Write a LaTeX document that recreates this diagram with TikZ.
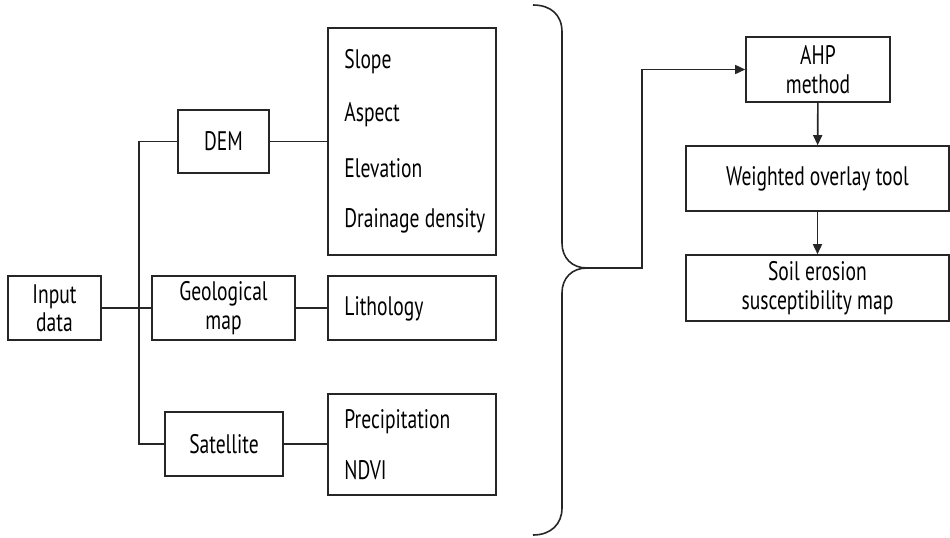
\documentclass[tikz,border=0pt]{standalone}
\usepackage{fontspec}
\setmainfont[FakeStretch=0.73]{PT Sans}
\usepackage{tikz}
\usetikzlibrary{arrows.meta,positioning}
\tikzset{
    box/.style={
           rectangle,
           draw=black!85, line width=0.8pt,
           inner sep=2pt,
           align=center,
           },
    item/.style={
           anchor=west,
           inner sep=0pt,
           },
    link/.style={
           draw=black!85, line width=0.8pt,
           },
    flow/.style={
           link, -{Triangle[length=5pt,width=4.5pt]},
           },
}

\begin{document}
\begin{tikzpicture}[x=0.5pt,y=-0.5pt,font=\fontsize{13.4}{14.2}\selectfont]
    \useasboundingbox (0,0) rectangle (950,537);

    % Input and the three sources
    \node[box, minimum width=46.5pt, minimum height=32pt] (input) at (54.5,308) {Input\\data};
    \node[box, minimum width=45.5pt, minimum height=31.5pt] (dem) at (223.5,141.5) {DEM};
    \node[box, minimum width=71.5pt, minimum height=32pt] (geo) at (223.5,308) {Geological\\map};
    \node[box, minimum width=59pt, minimum height=32pt] (sat) at (224,444) {Satellite};

    % factor boxes (text placed separately below)
    \node[box, minimum width=84pt, minimum height=113.5pt] (terrain) at (412,141.5) {};
    \node[box, minimum width=84pt, minimum height=32pt] (lith) at (412,308) {};
    \node[box, minimum width=84pt, minimum height=50.5pt] (climate) at (412,444.5) {};

    \node[item] (slope) at (344,62) {Slope};
    \node[item] (aspect) at (344,115) {Aspect};
    \node[item] (elev) at (344,168) {Elevation};
    \node[item] (drain) at (344,221) {Drainage density};
    \node[item] (litho) at (344,309) {Lithology};
    \node[item] (precip) at (344,422) {Precipitation};
    \node[item] (ndvi) at (344,470) {NDVI};

    % right column
    \node[box, minimum width=72pt, minimum height=32.5pt] (ahp) at (818,69.5) {AHP\\method};
    \node[box, minimum width=131.5pt, minimum height=32.5pt] (overlay) at (817.5,178.5) {Weighted overlay tool};
    \node[box, minimum width=131.5pt, minimum height=33pt] (soil) at (817.5,288) {Soil erosion\\susceptibility map};

    % tree from the input
    \draw[link] (input) -- (geo);
    \draw[link] (dem.west) -- ++(-38,0) |- (sat.west);
    \draw[link] (dem) -- (dem -| terrain.west);
    \draw[link] (geo) -- (lith);
    \draw[link] (sat) -- (sat -| climate.west);

    % the big brace
    \coordinate (tip) at (587,268);
    \draw[link] (533,5) .. controls (551,5) and (562,15) .. (562,32) -- (562,243)
        .. controls (562,258) and (572,268) .. (tip)
        .. controls (572,268) and (562,278) .. (562,293) -- (562,508)
        .. controls (562,524) and (551,535) .. (533,535);

    % flow on the right
    \draw[flow] (tip) -- (642,268) |- (ahp.west);
    \draw[flow] (ahp) -- (overlay);
    \draw[flow] (overlay) -- (soil);
\end{tikzpicture}
\end{document}
